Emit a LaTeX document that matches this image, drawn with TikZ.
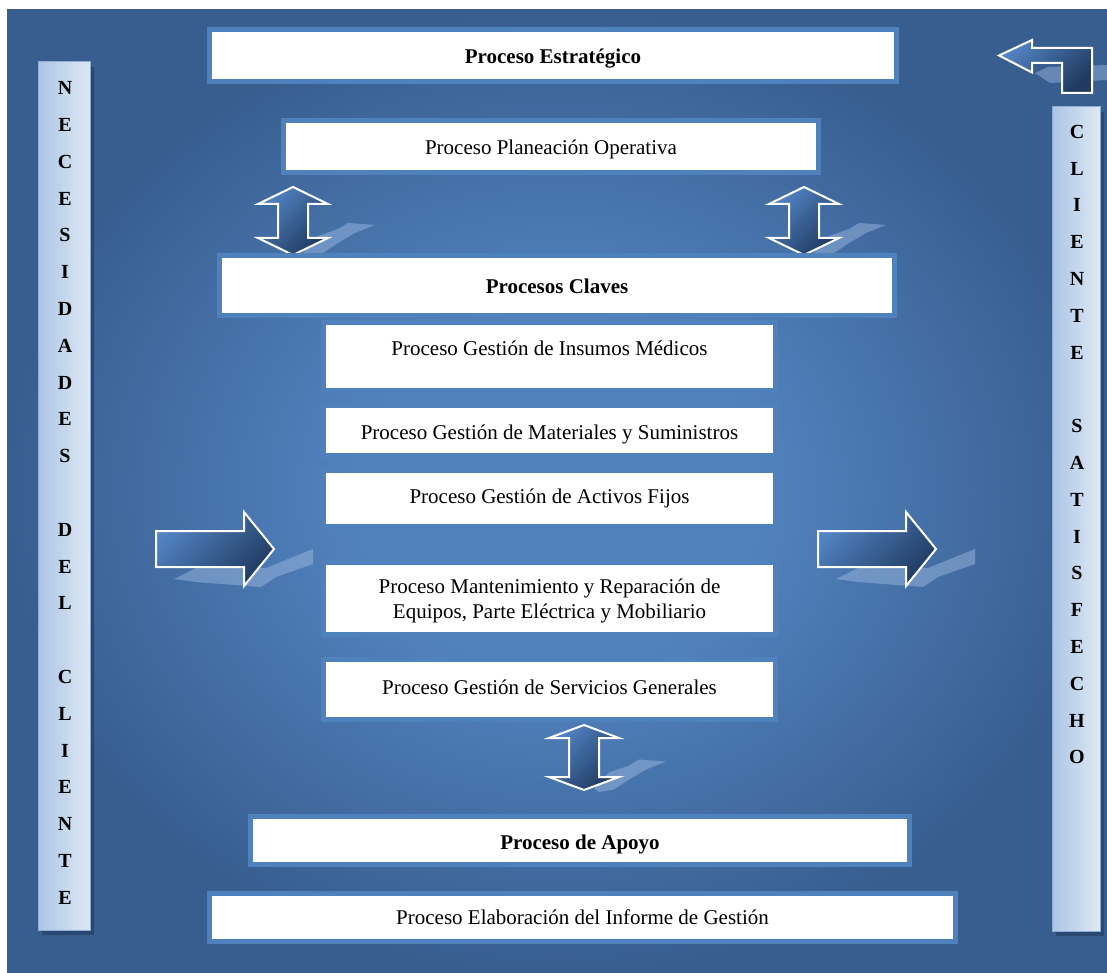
\documentclass[tikz,border=0pt]{standalone}
\usepackage{fontspec}
\setmainfont{Liberation Serif}
\usetikzlibrary{shadows}

\definecolor{bgouter}{RGB}{56,94,144}
\definecolor{bginner}{RGB}{82,130,190}
\definecolor{frameblue}{RGB}{79,129,189}
\definecolor{arrowlight}{RGB}{82,132,196}
\definecolor{arrowdark}{RGB}{32,58,96}
\definecolor{barleft}{RGB}{172,197,229}
\definecolor{barright}{RGB}{222,232,244}
\definecolor{barline}{RGB}{140,172,212}
\definecolor{barshadow}{RGB}{42,72,114}
\definecolor{floorshade}{RGB}{170,196,232}

% soft glow behind the whole chart
\pgfdeclareradialshading{bgglow}{\pgfpoint{0bp}{0bp}}{%
  color(0bp)=(bginner); color(9bp)=(bginner); color(25bp)=(bgouter); color(50bp)=(bgouter)}

\tikzset{
  procbox/.style={draw=frameblue, line width=5pt, fill=white, inner sep=0pt},
  proctext/.style={inner sep=0pt, anchor=base, font=\fontsize{21}{25}\selectfont},
  headtext/.style={proctext, font=\bfseries\fontsize{21}{25}\selectfont},
  sidebar/.style={draw=barline, line width=1pt, left color=barleft, right color=barright,
    inner sep=0pt, general shadow={fill=barshadow, shadow xshift=4pt, shadow yshift=-5pt}},
  sidetext/.style={inner sep=0pt, align=center, font=\bfseries\fontsize{20}{36.8}\selectfont},
  blockarrow/.style={draw=white, line width=2pt, line join=miter,
    top color=arrowlight, bottom color=arrowdark, shading angle=45},
  floorshadow/.style={fill=floorshade, fill opacity=0.42},
  % two-headed vertical arrow: #1 half length, #2 head length
  pics/updown/.style 2 args={code={
    \fill[floorshadow] (10,#1-2) -- (25,15) -- (45,8) -- (55,2) -- (82,4) -- (62,12)
      -- (45,22) -- (30,32) -- (15,#1+2) -- cycle;
    \path[blockarrow] (0,-#1) -- (35,-#1+#2) -- (15,-#1+#2) -- (15,#1-#2) -- (35,#1-#2)
      -- (0,#1) -- (-35,#1-#2) -- (-15,#1-#2) -- (-15,-#1+#2) -- (-35,-#1+#2) -- cycle;
  }},
  % right-pointing block arrow, origin at the middle of its tail
  pics/rightblock/.style={code={
    \fill[floorshadow] (18,30) -- (40,19) -- (110,19) -- (157,0) -- (157,15) -- (120,28)
      -- (105,38) -- (40,33) -- cycle;
    \path[blockarrow] (0,-18) -- (88,-18) -- (88,-37) -- (118,0) -- (88,37) -- (88,18)
      -- (0,18) -- cycle;
  }},
}

\begin{document}
\begin{tikzpicture}[x=1pt,y=-1pt]
\useasboundingbox (0,0) rectangle (1107,973);

% background panel
\shade[shading=bgglow] (7,10) rectangle (1107,973);

% block arrows
\pic at (293,221) {updown={34}{17}};
\pic at (804,221) {updown={34}{17}};
\pic at (584,757.5) {updown={32.5}{13}};
\pic at (156,549) {rightblock};
\pic at (818,549) {rightblock};

% return arrow, top right
\fill[floorshadow] (1035,73) -- (1048,67) -- (1107,65) -- (1107,80) -- (1050,83) -- cycle;
\path[blockarrow] (999,55.5) -- (1032,40) -- (1032,48) -- (1092,48) -- (1092,93)
  -- (1062,93) -- (1062,63) -- (1032,63) -- (1032,72.5) -- cycle;

% process boxes
\node[procbox, minimum width=687, minimum height=52] (strat) at (553,55.5) {};
\node[procbox, minimum width=535, minimum height=52] (plan) at (551,146.5) {};
\node[procbox, minimum width=675, minimum height=60] (keys) at (557,285.5) {};
\node[procbox, minimum width=452, minimum height=68] (insumos) at (549.5,356.5) {};
\node[procbox, minimum width=452, minimum height=50] (materiales) at (549.5,430.5) {};
\node[procbox, minimum width=452, minimum height=56] (activos) at (549.5,498.5) {};
\node[procbox, minimum width=452, minimum height=72] (mant) at (549.5,598.5) {};
\node[procbox, minimum width=452, minimum height=60] (servicios) at (549.5,689.5) {};
\node[procbox, minimum width=659, minimum height=48] (apoyo) at (580,840.5) {};
\node[procbox, minimum width=746, minimum height=48] (informe) at (582.5,917.5) {};

% box captions, set on their baselines
\node[headtext] (strattext) at (553,64) {Proceso Estratégico};
\node[proctext] (plantext) at (551,155) {Proceso Planeación Operativa};
\node[headtext] (keystext) at (557,294) {Procesos Claves};
\node[proctext] (insumostext) at (549.5,355) {Proceso Gestión de Insumos Médicos};
\node[proctext] (materialestext) at (549.5,439) {Proceso Gestión de Materiales y Suministros};
\node[proctext] (activostext) at (549.5,503) {Proceso Gestión de Activos Fijos};
\node[proctext] (manttext) at (549.5,593) {Proceso Mantenimiento y Reparación de};
\node[proctext] (manttextb) at (549.5,618) {Equipos, Parte Eléctrica y Mobiliario};
\node[proctext] (serviciostext) at (549.5,694) {Proceso Gestión de Servicios Generales};
\node[headtext] (apoyotext) at (580,849) {Proceso de Apoyo};
\node[proctext] (informetext) at (582.5,924) {Proceso Elaboración del Informe de Gestión};

% side bars
\node[sidebar, minimum width=52, minimum height=868] (needbar) at (64,496) {};
\node[sidetext] (needtext) at (65,493) {N\\E\\C\\E\\S\\I\\D\\A\\D\\E\\S\\~\\D\\E\\L\\~\\C\\L\\I\\E\\N\\T\\E};
\node[sidebar, minimum width=48, minimum height=824] (clientbar) at (1076,519) {};
\node[sidetext] (clienttext) at (1077,444.5) {C\\L\\I\\E\\N\\T\\E\\~\\S\\A\\T\\I\\S\\F\\E\\C\\H\\O};
\end{tikzpicture}
\end{document}
